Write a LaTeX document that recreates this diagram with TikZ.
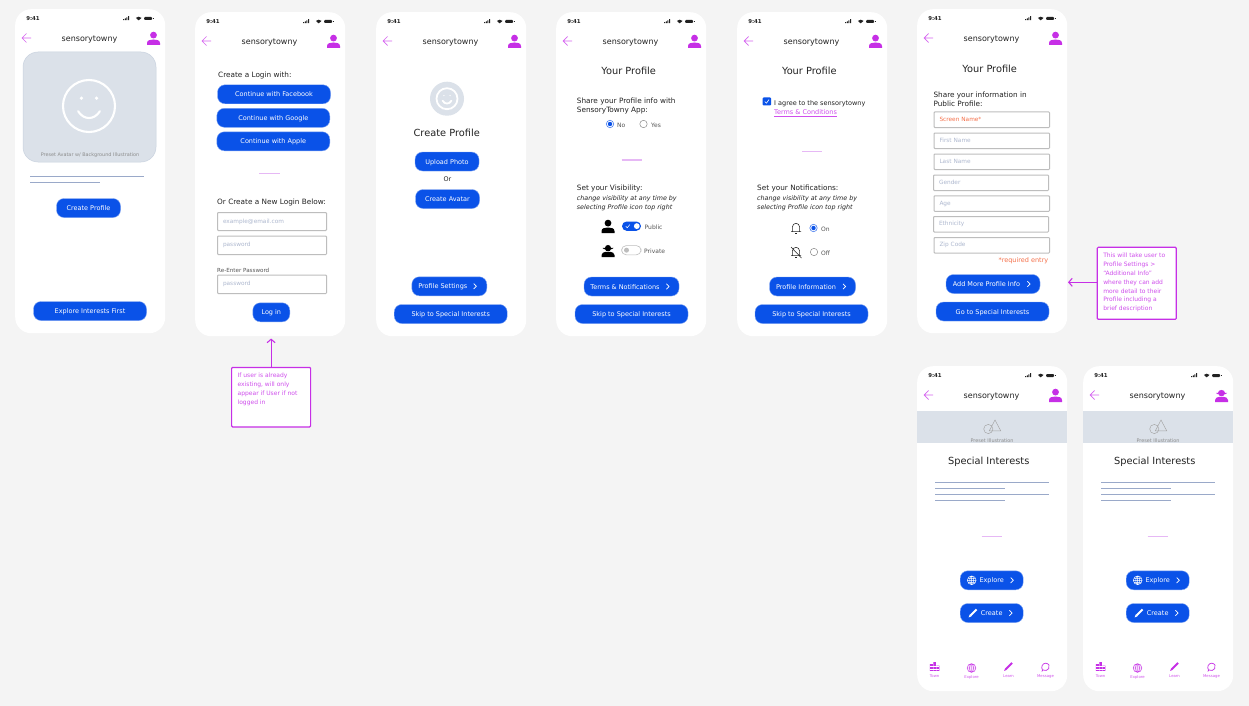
\documentclass[tikz,border=0pt]{standalone}
\usepackage{fontspec}
\setmainfont{DejaVu Sans}
\usetikzlibrary{arrows.meta}
\definecolor{bgc}{HTML}{F4F4F4}
\definecolor{blueb}{HTML}{0A52E8}
\definecolor{blueedge}{HTML}{7FA4F2}
\definecolor{mag}{HTML}{C62FE6}
\definecolor{magtxt}{HTML}{CF4FEC}
\definecolor{magline}{HTML}{D665F0}
\definecolor{divc}{HTML}{E6B8F5}
\definecolor{panel}{HTML}{DBE1E9}
\definecolor{panele}{HTML}{C9D2DF}
\definecolor{ruleb}{HTML}{9AA9C9}
\definecolor{fieldb}{HTML}{BDBDBD}
\definecolor{phold}{HTML}{AEB8CF}
\definecolor{ink}{HTML}{222222}
\definecolor{midg}{HTML}{555555}
\definecolor{lgt}{HTML}{8C8C8C}
\definecolor{oran}{HTML}{F5704A}
\tikzset{
  x=1pt,y=-1pt,
  phonebox/.style={fill=white,draw=none,rounded corners=16pt,minimum width=150pt,inner sep=0,anchor=north west},
  btn/.style={rounded corners=7.5pt,fill=blueb,draw=blueedge,line width=.4pt,minimum height=19pt,inner sep=0,text=white,text height=5pt,text depth=0pt,font=\fontsize{6.5}{7}\selectfont},
  lbl/.style={inner sep=0,text=ink,font=\fontsize{7.3}{8}\selectfont,anchor=mid west},
  ttl/.style={inner sep=0,yshift=-.7pt,text=ink,font=\fontsize{8}{9}\selectfont,anchor=mid},
  big/.style={inner sep=0,yshift=-.7pt,text=ink,font=\fontsize{9.8}{11}\selectfont,anchor=mid},
  small/.style={inner sep=0,text=midg,font=\fontsize{6}{7}\selectfont,anchor=mid west},
  ital/.style={inner sep=0,text=ink,font=\fontsize{6.35}{7}\selectfont\itshape,anchor=mid west},
  field/.style={draw=fieldb,line width=1pt,fill=white,rounded corners=.8pt,inner ysep=0,inner xsep=5.5pt,align=left,anchor=north west,text=phold,font=\fontsize{5.8}{7}\selectfont},
  tiny/.style={inner sep=0,text=lgt,font=\fontsize{4.9}{5}\selectfont,anchor=mid},
  navl/.style={inner sep=0,text=magtxt,font=\fontsize{3.8}{4}\selectfont,anchor=mid},
  note/.style={draw=mag,line width=1.2pt,fill=white,rounded corners=1pt,inner sep=6pt,text=magtxt,font=\fontsize{6}{8.8}\selectfont},
  notearrow/.style={draw=mag,line width=1.1pt,-{Straight Barb[length=3.5pt,width=8pt]}},
  divider/.style={draw=divc,line width=.7pt},
  rules/.style={draw=ruleb,line width=1pt},
}
% icons
\newcommand\PersonIcon[3]{\begin{scope}[shift={(#1,#2)}]
  \fill[#3] (0,-3.4) circle (3.4);
  \fill[#3] (-6.5,6.5) -- (-6.5,4.6) .. controls (-6.5,1.6) and (-3,1) .. (0,1) .. controls (3,1) and (6.5,1.6) .. (6.5,4.6) -- (6.5,6.5) -- cycle;
\end{scope}}
\newcommand\PrivateIcon[3]{\begin{scope}[shift={(#1,#2)}]
  \fill[#3] (-3.2,-3) .. controls (-3.2,-7) and (3.2,-7) .. (3.2,-3) -- cycle;
  \fill[#3] (-5.5,-2.6) -- (5.5,-2.6) .. controls (5,-1.2) and (3,-1.2) .. (2.8,-1.2) .. controls (2.6,1.4) and (-2.6,1.4) .. (-2.8,-1.2) .. controls (-3,-1.2) and (-5,-1.2) .. (-5.5,-2.6) -- cycle;
  \fill[#3] (-6.5,6.5) -- (-6.5,4.6) .. controls (-6.5,2.2) and (-4,1.6) .. (-2.5,1.4) -- (2.5,1.4) .. controls (4,1.6) and (6.5,2.2) .. (6.5,4.6) -- (6.5,6.5) -- cycle;
\end{scope}}
\newcommand\Status{%
  \fill[ink] (108.2,11.2) rectangle +(1,-1) (109.8,11.2) rectangle +(1,-1.9) (111.4,11.2) rectangle +(1,-2.9) (113,11.2) rectangle +(1,-4);
  \fill[ink] (123.7,11.4) -- (120.9,8.9) .. controls (122.3,7.3) and (125.1,7.3) .. (126.5,8.9) -- cycle;
  \fill[ink,rounded corners=.8pt] (129.2,8) rectangle (137,11);
  \fill[ink] (137.5,8.8) rectangle (138.1,10.2);
}
% #1 name, #2 x, #3 y, #4 height, #5 profile icon macro
\newcommand\Phone[5]{\begin{scope}[shift={(#2,#3)}]
  \node[phonebox,minimum height=#4pt] (#1) at (0,0) {};
  \node[inner sep=0,font=\fontsize{5.4}{6}\selectfont\bfseries,text=ink] (#1-time) at (18,10) {9:41};
  \Status
  \node[ttl] (#1-title) at (74.5,29) {sensorytowny};
  \draw[magline,line width=.7pt] (16,29) -- (7,29) (11.5,24.5) -- (7,29) -- (11.5,33.5);
  #5{138.5}{29.5}{mag}
\end{scope}}
\newcommand\Btn[5]{\node[btn,minimum width=#4pt] (#1) at (#2,#3) {#5};}
\newcommand\Chev[2]{\draw[white,line width=.7pt] (#1-1.3,#2-2.7) -- (#1+1.3,#2) -- (#1-1.3,#2+2.7);}
\newcommand\Field[6]{\pgfmathsetmacro\fw{#4-11}\node[field,text width=\fw pt,minimum height=#5pt] (#1) at (#2,#3) {#6};}
\newcommand\Radio[3]{\ifnum#3=1
  \draw[blueb!75!white,line width=.6pt,fill=white] (#1,#2) circle (3.7);\fill[blueb] (#1,#2) circle (2.2);
  \else \draw[lgt,line width=.5pt,fill=white] (#1,#2) circle (3.7);\fi}
\newcommand\Smiley[4]{\draw[white,line width=#4] (#1,#2) circle (#3);
  \fill[white] (#1-0.29*#3,#2-0.3*#3) circle (0.07*#3) (#1+0.29*#3,#2-0.3*#3) circle (0.07*#3);
  \draw[white,line width=#4,line cap=round] (#1-0.42*#3,#2+0.2*#3) .. controls (#1-0.2*#3,#2+0.55*#3) and (#1+0.2*#3,#2+0.55*#3) .. (#1+0.42*#3,#2+0.2*#3);}
\newcommand\Bell[2]{\begin{scope}[shift={(#1,#2)}]
  \draw[ink,line width=.55pt,line join=round] (-5,3.6) -- (5,3.6) (-3.6,3.6) -- (-3.6,-1) .. controls (-3.6,-5.8) and (3.6,-5.8) .. (3.6,-1) -- (3.6,3.6);
  \draw[ink,line width=.7pt] (-.8,5.4) -- (.8,5.4);
\end{scope}}
\newcommand\BellOff[2]{\Bell{#1}{#2}\draw[ink,line width=.55pt] (#1-5,#2-5) -- (#1+5.5,#2+6);}
\newcommand\Globe[4]{\begin{scope}[shift={(#1,#2)}]
  \draw[#3,line width=#4] (0,0) circle (4.4) (0,0) ellipse (2 and 4.4) (0,-4.4) -- (0,4.4) (-4.4,0) -- (4.4,0) (-3.9,-2) -- (3.9,-2) (-3.9,2) -- (3.9,2);
\end{scope}}
\newcommand\Pencil[3]{\begin{scope}[shift={(#1,#2)}]
  \draw[#3,line width=1.9pt] (-2.6,2.6) -- (3.6,-3.6);
  \fill[#3] (-3.3,1.6) -- (-4.4,4.4) -- (-1.6,3.3) -- cycle;
\end{scope}}
\newcommand\Town[2]{\begin{scope}[shift={(#1,#2)}]
  \fill[mag] (-4.6,-2.4) rectangle (-1.6,4.4) (-1.2,-4.4) rectangle (1.4,4.4) (1.8,-1) rectangle (4.8,4.4);
  \draw[white,line width=.15pt] (-4.6,0) -- (4.8,0) (-4.6,2.2) -- (4.8,2.2);
\end{scope}}
\newcommand\Msg[2]{\begin{scope}[shift={(#1,#2)}]
  \draw[mag,line width=.7pt] (-2.9,3.3) .. controls (-5,0) and (-3,-3.8) .. (.2,-3.8) .. controls (3.4,-3.8) and (4.6,-.6) .. (3.2,1.6) .. controls (2,3.6) and (-.6,4) .. (-2.4,3) -- (-3.8,4.4) -- cycle;
\end{scope}}
% #1 prefix, #2 x offset
\newcommand\Interests[2]{\begin{scope}[shift={(#2,0)}]
  \fill[panel] (917,411) rectangle (1067,443);
  \draw[lgt!80!white,line width=.45pt] (988.3,429) circle (4.6) (995,420) -- (1000.7,430.8) -- (989.3,430.8) -- cycle;
  \node[tiny] (#1-prest) at (992,439.5) {Preset Illustration};
  \node[big] (#1-head) at (988.7,461) {Special Interests};
  \draw[rules] (935,482) -- (1049,482) (935,488) -- (1005,488) (935,494) -- (1049,494) (935,500) -- (1005,500);
  \draw[divider] (981.5,536.3) -- (1002,536.3);
  \Btn{#1-explore}{991.7}{580.3}{63}{Explore}
  \Globe{971.7}{580.3}{white}{.45pt}\Chev{1012}{580.3}
  \Btn{#1-create}{991.7}{613}{63}{Create}
  \Pencil{973}{613}{white}\Chev{1010.7}{613}
  \Town{934.5}{666.5}\node[navl] (#1-n1) at (934.5,675) {Town};
  \Globe{971.5}{668}{mag}{.4pt}\node[navl] (#1-n2) at (971.5,675.5) {Explore};
  \Pencil{1008.5}{666.5}{mag}\node[navl] (#1-n3) at (1008.5,675) {Learn};
  \Msg{1045.5}{667}\node[navl] (#1-n4) at (1045.5,675) {Message};
\end{scope}}
\begin{document}
\begin{tikzpicture}
\useasboundingbox (0,0) rectangle (1249,706);
\fill[bgc] (0,0) rectangle (1249,706);

\Phone{pa}{15}{9}{324}{\PersonIcon}
\Phone{pb}{195}{12}{324}{\PersonIcon}
\Phone{pc}{376}{12}{324}{\PersonIcon}
\Phone{pd}{556}{12}{324}{\PersonIcon}
\Phone{pe}{737}{12}{324}{\PersonIcon}
\Phone{pf}{917}{9}{324}{\PersonIcon}
\Phone{pg}{917}{366}{325}{\PersonIcon}
\Phone{ph}{1083}{366}{325}{\PrivateIcon}

% Screen 1
\draw[panele,fill=panel,line width=.5pt,rounded corners=15pt] (23,52) rectangle (156,162);
\Smiley{89}{106}{26}{2.1pt}
\node[tiny] (a-prest) at (90,154) {Preset Avatar w/ Background Illustration};
\draw[rules] (30,176) -- (144,176) (30,182) -- (100,182);
\Btn{a-create}{88.5}{208}{64}{Create Profile}
\Btn{a-explore}{90}{311}{113}{Explore Interests First}

% Screen 2
\node[lbl] (b-l1) at (218,75) {Create a Login with:};
\Btn{b-fb}{274}{94.3}{113}{Continue with Facebook}
\Btn{b-go}{273.3}{117.8}{113}{Continue with Google}
\Btn{b-ap}{273.3}{141.3}{113}{Continue with Apple}
\draw[divider] (259,173.5) -- (280,173.5);
\node[lbl] (b-l2) at (217,201.5) {Or Create a New Login Below:};
\Field{b-f1}{217}{212}{109}{18}{example@email.com}
\Field{b-f2}{217}{235.5}{109}{18.5}{password}
\node[small,font=\fontsize{5.6}{6}\selectfont] (b-l3) at (217,269.5) {Re-Enter Password};
\Field{b-f3}{217}{274.5}{109}{18.5}{password}
\Btn{b-login}{271.3}{312.3}{37}{Log in}

% Screen 3
\fill[panel] (447,98.7) circle (17);
\Smiley{447}{98.7}{10.5}{1.8pt}
\node[big] (c-h) at (446.7,133.4) {Create Profile};
\Btn{c-up}{447}{161.5}{64}{Upload Photo}
\node[small,font=\fontsize{6.4}{7}\selectfont,anchor=mid,text=ink] (c-or) at (447.5,179) {Or};
\Btn{c-av}{447.5}{199}{64}{Create Avatar}
\Btn{c-ps}{449.3}{286.3}{75}{Profile Settings\kern13pt}\Chev{475}{286.3}
\Btn{c-skip}{450.7}{314}{113}{Skip to Special Interests}

% Screen 4
\node[big] (d-h) at (628.7,71.5) {Your Profile};
\node[lbl] (d-t1) at (576.7,100.5) {Share your Profile info with};
\node[lbl] (d-t2) at (576.7,109.5) {SensoryTowny App:};
\Radio{610}{124}{1}\node[small] (d-no) at (617,124.3) {No};
\Radio{643.5}{124}{0}\node[small] (d-yes) at (651,124.3) {Yes};
\draw[divc,line width=1.3pt] (621.5,160) -- (642,160);
\node[lbl] (d-t3) at (576.7,187.5) {Set your Visibility:};
\node[ital] (d-t4) at (576.7,197.5) {change visibility at any time by};
\node[ital] (d-t5) at (576.7,207) {selecting Profile icon top right};
\PersonIcon{608}{226.5}{black}
\fill[blueb,rounded corners=4.6pt] (622,221.5) rectangle (641,230.8);
\fill[white] (636.8,226.1) circle (2.9);
\draw[white,line width=.5pt] (625.8,226.2) -- (627.2,227.8) -- (629.8,224.6);
\node[small] (d-pub) at (644.5,226.5) {Public};
\PrivateIcon{608}{250.5}{black}
\draw[fieldb,line width=.6pt,fill=white,rounded corners=4.6pt] (621.6,245.6) rectangle (641,254.8);
\fill[fieldb] (626.5,250.2) circle (2.5);
\node[small] (d-pri) at (644,250.5) {Private};
\Btn{d-tn}{631.5}{286.5}{95}{Terms \& Notifications\kern13pt}\Chev{667.7}{286.5}
\Btn{d-skip}{631.5}{314}{113}{Skip to Special Interests}

% Screen 5
\node[big] (e-h) at (809.3,71.5) {Your Profile};
\fill[blueb,rounded corners=.8pt] (762.7,97.5) rectangle (771,105.5);
\draw[white,line width=.6pt] (764.8,101.6) -- (766.4,103.2) -- (769,99.6);
\node[small,font=\fontsize{6.5}{7}\selectfont,text=ink] (e-t1) at (774,102.5) {I agree to the sensorytowny};
\node[small,font=\fontsize{6.5}{7}\selectfont,text=magtxt] (e-t2) at (774,112) {\underline{Terms \& Conditions}};
\draw[divider] (802,151.5) -- (822,151.5);
\node[lbl] (e-t3) at (757,187.5) {Set your Notifications:};
\node[ital] (e-t4) at (757,197.5) {change visibility at any time by};
\node[ital] (e-t5) at (757,207) {selecting Profile icon top right};
\Bell{796}{228}
\Radio{813.5}{228}{1}\node[small] (e-on) at (821,228.3) {On};
\BellOff{796}{252}
\Radio{814}{252}{0}\node[small] (e-off) at (821,252.3) {Off};
\Btn{e-pi}{812.5}{286.5}{86}{Profile Information\kern13pt}\Chev{844.3}{286.5}
\Btn{e-skip}{811.5}{314}{113}{Skip to Special Interests}

% Screen 6
\node[big] (f-h) at (989.7,69) {Your Profile};
\node[lbl] (f-t1) at (933.3,95) {Share your information in};
\node[lbl] (f-t2) at (933.3,104) {Public Profile:};
\Field{f-f1}{933.5}{111.5}{115.5}{15.5}{\textcolor{oran}{Screen Name*}}
\Field{f-f2}{933.5}{132.5}{115.5}{15.5}{First Name}
\Field{f-f3}{933.5}{153.5}{115.5}{15.5}{Last Name}
\Field{f-f4}{933}{174.5}{115}{15.5}{Gender}
\Field{f-f5}{933.5}{195.3}{115.5}{15.5}{Age}
\Field{f-f6}{933}{216}{115}{15.5}{Ethnicity}
\Field{f-f7}{933.5}{237}{115.5}{15.5}{Zip Code}
\node[small,font=\fontsize{6.5}{7}\selectfont,anchor=mid east,text=oran] (f-req) at (1048.5,260) {*required entry};
\Btn{f-add}{993}{284}{94}{Add More Profile Info\kern13pt}\Chev{1028.7}{284}
\Btn{f-go}{992.5}{311.5}{113}{Go to Special Interests}

% Screens 7, 8
\Interests{g}{0}
\Interests{h}{166}

% Notes
\node[note,anchor=north west] (noteb) at (231,366.8) {\parbox[t][47.5pt][t]{67pt}{\raggedright If user is already\\existing, will only\\appear if User if not\\logged in}};
\coordinate (tipb) at (noteb.north |- 0,338.5);
\draw[notearrow] (noteb.north) -- (tipb);
\node[note,anchor=north west] (notef) at (1096.7,246.7) {\parbox[t][60pt][t]{67pt}{\raggedright This will take user to\\Profile Settings >\\``Additional Info''\\where they can add\\more detail to their\\Profile including a\\brief description}};
\coordinate (tipf) at (1068,282.3);
\draw[notearrow] (notef.west |- tipf) -- (tipf);
\end{tikzpicture}
\end{document}
